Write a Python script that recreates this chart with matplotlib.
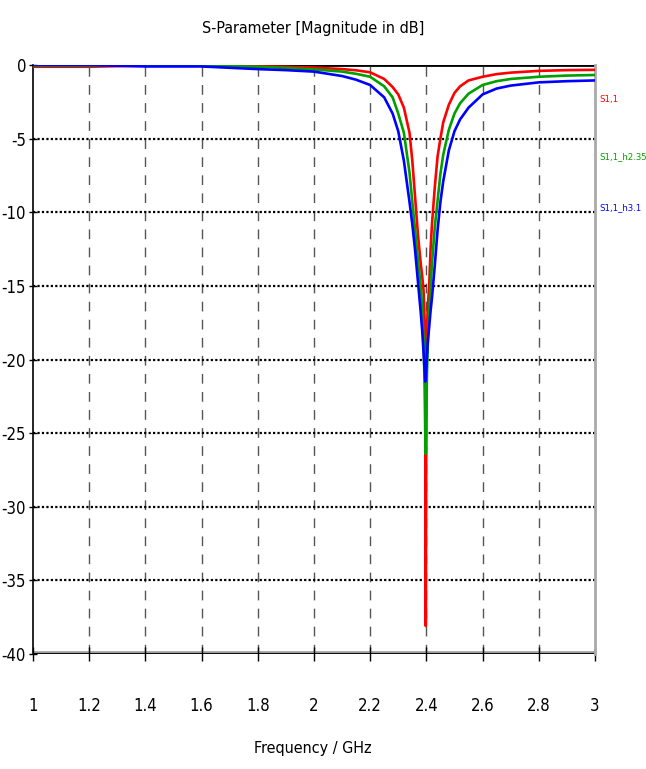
import matplotlib.pyplot as plt

# frequency points (GHz) and S11 magnitudes (dB)
freq = [1.0, 1.2, 1.3, 1.4, 1.6, 1.8, 1.9, 2.0, 2.1, 2.15, 2.2, 2.25, 2.28, 2.30, 2.32,
        2.34, 2.35, 2.36, 2.37, 2.38, 2.385, 2.39, 2.394, 2.396, 2.398, 2.400, 2.402,
        2.405, 2.41, 2.415, 2.42, 2.43, 2.44, 2.45, 2.46, 2.48, 2.50, 2.52, 2.55, 2.6,
        2.65, 2.7, 2.8, 2.9, 3.0]

s11 = [-0.12, -0.12, -0.08, -0.05, -0.05, -0.08, -0.12, -0.18, -0.28, -0.36, -0.5, -0.95,
       -1.5, -2.0, -2.9, -4.6, -6.5, -9.0, -11.5, -13.5, -14.3, -15.3, -17.5, -21.0, -38.1,
       -22.0, -18.0, -16.5, -15.0, -12.5, -10.8, -8.3, -6.2, -5.0, -3.9, -2.7, -1.9, -1.45,
       -1.05, -0.8, -0.62, -0.52, -0.4, -0.35, -0.33]

s11_h235 = [-0.05, -0.05, 0.0, -0.05, -0.05, -0.12, -0.2, -0.3, -0.45, -0.6, -0.8, -1.45,
            -2.2, -3.3, -4.6, -7.3, -9.3, -11.2, -13.2, -15.0, -16.5, -18.5, -22.0, -25.0,
            -26.4, -24.0, -21.0, -19.0, -16.8, -15.0, -13.5, -11.0, -9.2, -7.4, -6.1, -4.4,
            -3.3, -2.6, -1.95, -1.36, -1.1, -0.95, -0.8, -0.72, -0.68]

s11_h31 = [0.0, 0.0, -0.05, -0.1, -0.1, -0.28, -0.35, -0.45, -0.75, -1.0, -1.36, -2.2,
           -3.3, -4.5, -6.5, -9.3, -10.8, -12.6, -14.7, -16.8, -18.0, -19.5, -20.8, -21.5,
           -21.3, -20.5, -19.8, -18.8, -17.8, -16.7, -15.8, -13.6, -11.2, -9.3, -7.9, -5.8,
           -4.5, -3.7, -2.9, -2.0, -1.6, -1.4, -1.18, -1.1, -1.05]

xticks = [1, 1.2, 1.4, 1.6, 1.8, 2, 2.2, 2.4, 2.6, 2.8, 3]
xlabels = ["1", "1.2", "1.4", "1.6", "1.8", "2", "2.2", "2.4", "2.6", "2.8", "3"]
yticks = [0, -5, -10, -15, -20, -25, -30, -35, -40]

fnt = dict(family='DejaVu Sans', stretch='condensed')

fig = plt.figure(figsize=(6.46, 7.69), dpi=100)
ax = fig.add_axes([0.051, 0.1495, 0.870, 0.766])

# grid
for x in xticks[1:-1]:
    ax.axvline(x, color='#555555', lw=1.0, ls=(0, (7, 6)), zorder=1)
for y in yticks[1:-1]:
    ax.axhline(y, color='black', lw=1.6, ls=(0, (1, 1)), zorder=1)
ax.axhline(0, color='black', lw=2.0, zorder=1)
ax.axhline(-40, color='#999999', lw=4.0, zorder=1)
ax.axhline(-40, color='black', lw=2.0, zorder=1)

ax.plot(freq, s11, color='#ff0000', lw=1.9, zorder=3)
ax.plot(freq, s11_h235, color='#00a000', lw=1.9, zorder=4)
ax.plot(freq, s11_h31, color='#0000ff', lw=1.9, zorder=5)

ax.set_xlim(1, 3)
ax.set_ylim(-40, 0)
ax.set_xticks(xticks)
ax.set_xticklabels(xlabels, fontsize=12, **fnt)
ax.set_yticks(yticks)
ax.set_yticklabels([str(v) for v in yticks], fontsize=12, **fnt)
ax.tick_params(axis='x', direction='inout', length=10, width=1, pad=26, colors='black')
ax.tick_params(axis='y', direction='inout', length=6, width=1, pad=2)

for side in ['top', 'bottom']:
    ax.spines[side].set_visible(False)
ax.spines['left'].set_linewidth(1.2)
ax.spines['right'].set_color('#aaaaaa')
ax.spines['right'].set_linewidth(2)

fig.text(0.485, 0.963, "S-Parameter [Magnitude in dB]", ha='center', va='center',
         fontsize=11.5, **fnt)
fig.text(0.485, 0.027, "Frequency / GHz", ha='center', va='center',
         fontsize=11.5, **fnt)

# series labels on the right
fig.text(0.928, 0.870, "S1,1", color='#ff0000', fontsize=6.8, va='center', **fnt)
fig.text(0.928, 0.796, "S1,1_h2.35", color='#00a000', fontsize=6.8, va='center', **fnt)
fig.text(0.928, 0.730, "S1,1_h3.1", color='#0000ff', fontsize=6.8, va='center', **fnt)

fig.savefig("out.png", dpi=100)
